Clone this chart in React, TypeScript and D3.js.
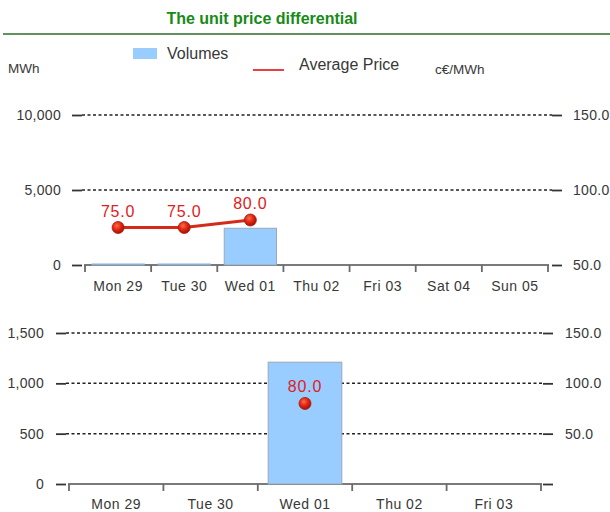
import { useEffect, useRef } from 'react'
import * as d3 from 'd3'

// chart data
const TITLE = 'The unit price differential'
const LEGEND_VOL = 'Volumes'
const LEGEND_PRICE = 'Average Price'

const weekDays = ['Mon 29', 'Tue 30', 'Wed 01', 'Thu 02', 'Fri 03', 'Sat 04', 'Sun 05']
const weekVolumes = [40, 40, 2450, 0, 0, 0, 0]
const weekPrices: (number | null)[] = [75.0, 75.0, 80.0, null, null, null, null]
const weekVolTicks = [0, 5000, 10000]
const weekPriceTicks = [50, 100, 150]

const dayCats = ['Mon 29', 'Tue 30', 'Wed 01', 'Thu 02', 'Fri 03']
const dayVolumes = [0, 0, 1210, 0, 0]
const dayPrices: (number | null)[] = [null, null, 80.0, null, null]
const dayVolTicks = [0, 500, 1000, 1500]
const dayPriceTicks = [0, 50, 100, 150]

const W = 610, H = 512
const FONT = '"Liberation Sans", Arial, sans-serif'
const BAR_FILL = '#99CCFF'
const RED = '#E0201C'
const TXT = '#383838'

interface Panel {
  cats: string[]
  volumes: number[]
  prices: (number | null)[]
  volDomain: [number, number]
  priceDomain: [number, number]
  volTicks: number[]
  priceTicks: number[]
  left: number     // x of left axis (end of tick mark)
  x0: number
  x1: number
  right: number    // x of right axis (start of tick mark)
  yTop: number
  yBase: number
  labelPad: number
  catPad: number
  barFrac: number
  priceLabelDy: number
}

const panels: Panel[] = [
  {
    cats: weekDays, volumes: weekVolumes, prices: weekPrices,
    volDomain: [0, 10000], priceDomain: [50, 150],
    volTicks: weekVolTicks, priceTicks: weekPriceTicks,
    left: 82, x0: 85, x1: 548, right: 552, yTop: 115, yBase: 265,
    labelPad: 11, catPad: 16.5, barFrac: 0.79, priceLabelDy: 11,
  },
  {
    cats: dayCats, volumes: dayVolumes, prices: dayPrices,
    volDomain: [0, 1500], priceDomain: [0, 150],
    volTicks: dayVolTicks, priceTicks: dayPriceTicks,
    left: 66, x0: 69, x1: 541, right: 543, yTop: 333, yBase: 484,
    labelPad: 12, catPad: 15.5, barFrac: 0.78, priceLabelDy: 11.5,
  },
]

function drawPanel(svg: d3.Selection<SVGSVGElement, unknown, null, undefined>, p: Panel) {
  const g = svg.append('g')
  const x = d3.scaleBand<string>().domain(p.cats).range([p.x0, p.x1]).padding(0)
  const yVol = d3.scaleLinear().domain(p.volDomain).range([p.yBase, p.yTop])
  const yPrice = d3.scaleLinear().domain(p.priceDomain).range([p.yBase, p.yTop])

  // dashed grid
  g.append('g').selectAll('line')
    .data(p.volTicks.filter((t) => t !== 0))
    .join('line')
    .attr('x1', p.left).attr('x2', p.right)
    .attr('y1', (d) => yVol(d)).attr('y2', (d) => yVol(d))
    .attr('stroke', '#222').attr('stroke-width', 1.5).attr('stroke-dasharray', '3 2.5')

  // left axis
  const la = g.append('g').attr('transform', `translate(${p.left},0)`)
    .call(d3.axisLeft(yVol).tickValues(p.volTicks).tickSize(10).tickPadding(p.labelPad)
      .tickFormat(d3.format(',')))
  la.select('.domain').remove()
  la.selectAll('line').attr('stroke', '#333').attr('stroke-width', 1.8)
  la.selectAll('text').attr('font-family', FONT).attr('font-size', 14)
    .attr('letter-spacing', 0.3).attr('fill', TXT)

  // right axis
  const ra = g.append('g').attr('transform', `translate(${p.right},0)`)
    .call(d3.axisRight(yPrice).tickValues(p.priceTicks).tickSize(10).tickPadding(p.labelPad)
      .tickFormat((d) => (+d === 0 ? '' : d3.format('.1f')(+d))))
  ra.select('.domain').remove()
  ra.selectAll('line').attr('stroke', '#333').attr('stroke-width', 1.8)
  ra.selectAll('text').attr('font-family', FONT).attr('font-size', 14)
    .attr('letter-spacing', 0.3).attr('fill', TXT)

  // x axis line + boundary ticks
  g.append('line')
    .attr('x1', p.x0 - 1).attr('x2', p.x1 + 1)
    .attr('y1', p.yBase).attr('y2', p.yBase)
    .attr('stroke', '#7A7A7A').attr('stroke-width', 2)
  const bounds = p.cats.map((c) => x(c)!).concat([p.x1])
  g.append('g').selectAll('line')
    .data(bounds)
    .join('line')
    .attr('x1', (d) => d).attr('x2', (d) => d)
    .attr('y1', p.yBase).attr('y2', p.yBase + 7)
    .attr('stroke', '#6A6A6A').attr('stroke-width', 1.8)

  const xa = g.append('g').attr('transform', `translate(0,${p.yBase})`)
    .call(d3.axisBottom(x).tickSize(0).tickPadding(p.catPad))
  xa.select('.domain').remove()
  xa.selectAll('text').attr('font-family', FONT).attr('font-size', 14)
    .attr('letter-spacing', 0.5).attr('fill', TXT)

  // bars
  const bw = x.bandwidth() * p.barFrac
  g.append('g').selectAll('rect')
    .data(p.cats.map((c, i) => ({ c, v: p.volumes[i] })).filter((d) => d.v > 0))
    .join('rect')
    .attr('x', (d) => x(d.c)! + (x.bandwidth() - bw) / 2)
    .attr('width', bw)
    .attr('y', (d) => Math.min(yVol(d.v), p.yBase - 1))
    .attr('height', (d) => Math.max(p.yBase - yVol(d.v), 1))
    .attr('fill', BAR_FILL)
    .attr('stroke', (d) => (p.yBase - yVol(d.v) < 3 ? '#8DB0D0' : '#9AA8B8'))
    .attr('stroke-width', 1)

  // price line + points
  const pts = p.cats.map((c, i) => ({ c, v: p.prices[i] })).filter((d) => d.v != null) as { c: string; v: number }[]
  const cx = (c: string) => x(c)! + x.bandwidth() / 2
  const line = d3.line<{ c: string; v: number }>().x((d) => cx(d.c)).y((d) => yPrice(d.v))
  g.append('path').datum(pts).attr('d', line)
    .attr('fill', 'none').attr('stroke', '#D42A1A').attr('stroke-width', 3)
  g.append('g').selectAll('circle')
    .data(pts)
    .join('circle')
    .attr('cx', (d) => cx(d.c)).attr('cy', (d) => yPrice(d.v))
    .attr('r', 6)
    .attr('fill', 'url(#dotGrad)')
    .attr('stroke', '#A8180C').attr('stroke-width', 0.8)
  g.append('g').selectAll('text')
    .data(pts)
    .join('text')
    .attr('x', (d) => cx(d.c)).attr('y', (d) => yPrice(d.v) - p.priceLabelDy)
    .attr('text-anchor', 'middle')
    .attr('font-family', FONT).attr('font-size', 16).attr('letter-spacing', 0.8)
    .attr('fill', RED)
    .text((d) => d3.format('.1f')(d.v))
}

export default function App() {
  const svgRef = useRef<SVGSVGElement>(null)

  useEffect(() => {
    const svg = d3.select(svgRef.current!)
    svg.selectAll('*').remove()

    const defs = svg.append('defs')
    const grad = defs.append('radialGradient').attr('id', 'dotGrad')
      .attr('cx', '40%').attr('cy', '35%').attr('r', '65%')
    grad.append('stop').attr('offset', '0%').attr('stop-color', '#FF6A4A')
    grad.append('stop').attr('offset', '55%').attr('stop-color', '#E0240E')
    grad.append('stop').attr('offset', '100%').attr('stop-color', '#A01408')

    // title
    svg.append('text')
      .attr('x', 262).attr('y', 24)
      .attr('text-anchor', 'middle')
      .attr('font-family', FONT).attr('font-size', 16).attr('font-weight', 'bold')
      .attr('fill', '#178A17')
      .text(TITLE)
    svg.append('line')
      .attr('x1', 3).attr('x2', W).attr('y1', 34).attr('y2', 34)
      .attr('stroke', '#2A6E2A').attr('stroke-width', 1.5)

    // legend
    svg.append('rect').attr('x', 133).attr('y', 48).attr('width', 24).attr('height', 11)
      .attr('fill', BAR_FILL)
    svg.append('text').attr('x', 167).attr('y', 58.5)
      .attr('font-family', FONT).attr('font-size', 16).attr('fill', TXT)
      .text(LEGEND_VOL)
    svg.append('line').attr('x1', 253).attr('x2', 284).attr('y1', 70).attr('y2', 70)
      .attr('stroke', '#E00000').attr('stroke-width', 1.5)
    svg.append('text').attr('x', 299).attr('y', 69.5)
      .attr('font-family', FONT).attr('font-size', 16).attr('fill', TXT)
      .text(LEGEND_PRICE)

    // unit labels
    svg.append('text').attr('x', 8).attr('y', 73)
      .attr('font-family', FONT).attr('font-size', 13.5).attr('fill', TXT)
      .text('MWh')
    svg.append('text').attr('x', 435).attr('y', 74)
      .attr('font-family', FONT).attr('font-size', 13.5).attr('fill', TXT)
      .text('c€/MWh')

    panels.forEach((p) => drawPanel(svg, p))
  }, [])

  return (
    <svg
      ref={svgRef}
      width={W}
      height={H}
      style={{ position: 'absolute', left: 0, top: 0, background: '#fff' }}
    />
  )
}
